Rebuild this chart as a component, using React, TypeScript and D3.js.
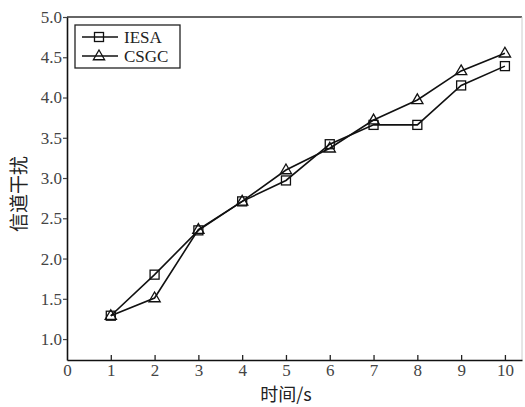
import { useRef, useEffect } from "react"
import * as d3 from "d3"

const times = [1, 2, 3, 4, 5, 6, 7, 8, 9, 10]
const iesa = [1.29, 1.8, 2.35, 2.71, 2.97, 3.42, 3.66, 3.66, 4.15, 4.39]
const csgc = [1.29, 1.51, 2.36, 2.71, 3.1, 3.37, 3.72, 3.97, 4.33, 4.55]
const xTicks = [0, 1, 2, 3, 4, 5, 6, 7, 8, 9, 10]
const yTicks = [1.0, 1.5, 2.0, 2.5, 3.0, 3.5, 4.0, 4.5, 5.0]
const seriesNames = ["IESA", "CSGC"]

export default function App() {
  const svgRef = useRef<SVGSVGElement>(null)

  useEffect(() => {
    const width = 525
    const height = 407
    const left = 67
    const top = 17
    const right = 522
    const bottom = 360
    const serif = "'Liberation Serif', 'DejaVu Serif', serif"
    const cjk = "'Noto Sans CJK SC', sans-serif"

    const svg = d3.select(svgRef.current).attr("width", width).attr("height", height)
    svg.selectAll("*").remove()

    const x = d3.scaleLinear().domain([0, 10.39]).range([left, right])
    const y = d3.scaleLinear().domain([0.74, 5.0]).range([bottom, top])

    // frame
    svg.append("line").attr("x1", left).attr("x2", right).attr("y1", top).attr("y2", top)
      .attr("stroke", "#333").attr("stroke-width", 1.5)
    svg.append("line").attr("x1", right).attr("x2", right).attr("y1", top).attr("y2", bottom)
      .attr("stroke", "#ccc").attr("stroke-width", 1)

    // bottom axis (ticks inside)
    const xAxis = svg.append("g").attr("transform", `translate(0,${bottom})`)
      .call(d3.axisBottom(x).tickValues(xTicks).tickSizeInner(-5).tickSizeOuter(0).tickPadding(4)
        .tickFormat((d) => String(d)))
    xAxis.select(".domain").attr("stroke", "#111").attr("stroke-width", 1.6)
    xAxis.selectAll(".tick line").attr("stroke", "#222").attr("stroke-width", 1.3)
      .attr("display", (d: any) => (d === 0 ? "none" : null))
    xAxis.selectAll("text").attr("font-family", serif).attr("font-size", 17).attr("fill", "#444")

    // left axis (ticks outside)
    const yAxis = svg.append("g").attr("transform", `translate(${left},0)`)
      .call(d3.axisLeft(y).tickValues(yTicks).tickSizeInner(4).tickSizeOuter(0).tickPadding(1)
        .tickFormat(d3.format(".1f")))
    yAxis.select(".domain").attr("stroke", "#111").attr("stroke-width", 1.6)
    yAxis.selectAll(".tick line").attr("stroke", "#444").attr("stroke-width", 1.2)
    yAxis.selectAll("text").attr("font-family", serif).attr("font-size", 17).attr("fill", "#444")

    // axis titles
    svg.append("text").attr("x", 286).attr("y", 401).attr("text-anchor", "middle")
      .attr("font-family", cjk).attr("font-size", 18).attr("fill", "#222").text("时间/s")
    svg.append("text").attr("transform", `translate(26,194) rotate(-90)`)
      .attr("text-anchor", "middle").attr("font-family", cjk).attr("font-size", 19)
      .attr("fill", "#222").text("信道干扰")

    const line = d3.line<number>().x((d, i) => x(times[i])).y((d) => y(d))
    const tri = d3.symbol().type(d3.symbolTriangle).size(55)

    const drawSquare = (g: any, cx: number, cy: number) =>
      g.append("rect").attr("x", cx - 4.5).attr("y", cy - 4.5).attr("width", 9).attr("height", 9)
        .attr("fill", "none").attr("stroke", "#111").attr("stroke-width", 1.3)
    const drawTri = (g: any, cx: number, cy: number) =>
      g.append("path").attr("d", tri()).attr("transform", `translate(${cx},${cy + 0.5})`)
        .attr("fill", "none").attr("stroke", "#111").attr("stroke-width", 1.3)

    const plot = svg.append("g")
    plot.append("path").datum(iesa).attr("d", line).attr("fill", "none")
      .attr("stroke", "#111").attr("stroke-width", 1.6)
    plot.append("path").datum(csgc).attr("d", line).attr("fill", "none")
      .attr("stroke", "#111").attr("stroke-width", 1.6)
    iesa.forEach((v, i) => drawSquare(plot, x(times[i]), y(v)))
    csgc.forEach((v, i) => drawTri(plot, x(times[i]), y(v)))

    // legend
    const legend = svg.append("g")
    legend.append("rect").attr("x", 75).attr("y", 25).attr("width", 105).attr("height", 43)
      .attr("fill", "#fff").attr("stroke", "#222").attr("stroke-width", 1.3)
    seriesNames.forEach((name, i) => {
      const ly = 37 + i * 19
      legend.append("line").attr("x1", 82).attr("x2", 118).attr("y1", ly).attr("y2", ly)
        .attr("stroke", "#111").attr("stroke-width", 1.6)
      if (i === 0) drawSquare(legend, 99, ly)
      else drawTri(legend, 99, ly)
      legend.append("text").attr("x", 124).attr("y", ly + 6).attr("font-family", serif)
        .attr("font-size", 17).attr("fill", "#222").text(name)
    })
  }, [])

  return (
    <div style={{ position: "absolute", left: 0, top: 0 }}>
      <svg ref={svgRef}></svg>
    </div>
  )
}
